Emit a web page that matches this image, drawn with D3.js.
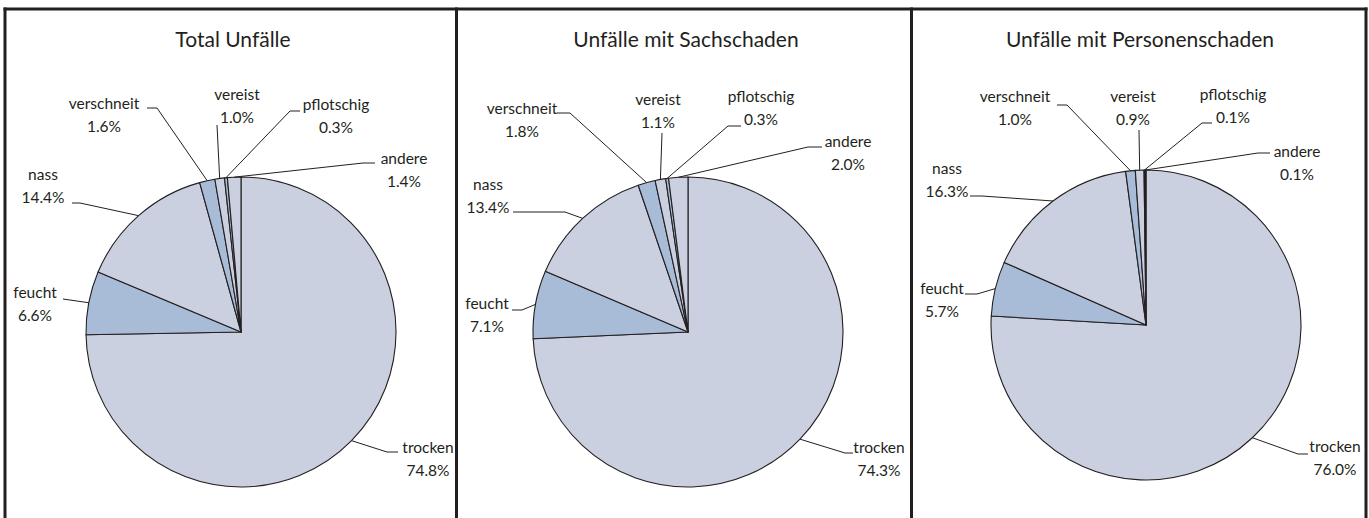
<!DOCTYPE html>
<html>
<head>
<meta charset="utf-8">
<script src="https://cdn.jsdelivr.net/npm/d3@7"></script>
<style>
  body { margin: 0; background: #fff; }
  text { font-family: Lato, "Open Sans", sans-serif; fill: #231f20; }
</style>
</head>
<body>
<div id="chart"></div>
<script>
var width = 1369;
var height = 518;
var radius = 155;
var lightColor = '#cad0df';
var darkColor = '#a8bbd7';
var lineColor = '#231f20';

// data
var categories = ['trocken', 'feucht', 'nass', 'verschneit', 'vereist', 'pflotschig', 'andere'];
var titles = ['Total Unfälle', 'Unfälle mit Sachschaden', 'Unfälle mit Personenschaden'];
var totalValues = [74.8, 6.6, 14.4, 1.6, 1.0, 0.3, 1.4];
var sachValues = [74.3, 7.1, 13.4, 1.8, 1.1, 0.3, 2.0];
var personValues = [76.0, 5.7, 16.3, 1.0, 0.9, 0.1, 0.1];
var seriesValues = [totalValues, sachValues, personValues];

// layout of the three panels (pie centres, frame lines)
var panelCenters = [[241, 332], [688, 332], [1146, 325]];
var titleX = [233, 686, 1140];
var frameX = [5, 456.5, 911.5, 1366];

// label placement relative to pie centre: text centre (tx, ty = name baseline),
// leader knee (kx, ky) and end (ex, ey) next to the text
var labelLayouts = [
  [
    {tx: 187, ty: 121, kx: 146, ky: 120, ex: 157, ey: 120},
    {tx: -206, ty: -34, kx: -178, ky: -33, ex: -178, ey: -33},
    {tx: -198, ty: -152, kx: -161, ky: -129, ex: -169, ey: -129},
    {tx: -137, ty: -223, kx: -84, ky: -224, ex: -94, ey: -224},
    {tx: -4, ty: -232, kx: -24, ky: -207, ex: -24, ey: -207},
    {tx: 95, ty: -222, kx: 49, ky: -221, ex: 59, ey: -221},
    {tx: 163, ty: -168, kx: 122, ky: -169, ex: 134, ey: -169}
  ],
  [
    {tx: 191, ty: 121, kx: 157, ky: 121, ex: 165, ey: 121},
    {tx: -201, ty: -23, kx: -166, ky: -22, ex: -176, ey: -22},
    {tx: -200, ty: -142, kx: -123, ky: -120, ex: -175, ey: -120},
    {tx: -166, ty: -218, kx: -118, ky: -219, ex: -131, ey: -219},
    {tx: -30, ty: -227, kx: -26, ky: -199, ex: -26, ey: -199},
    {tx: 73, ty: -230, kx: 40, ky: -206, ex: 53, ey: -206},
    {tx: 160, ty: -185, kx: 120, ky: -185, ex: 134, ey: -185}
  ],
  [
    {tx: 189, ty: 127, kx: 152, ky: 129, ex: 162, ey: 129},
    {tx: -204, ty: -31, kx: -169, ky: -31, ex: -181, ey: -31},
    {tx: -199, ty: -151, kx: -164, ky: -129, ex: -176, ey: -129},
    {tx: -131, ty: -223, kx: -79, ky: -220, ex: -89, ey: -220},
    {tx: -13, ty: -223, kx: -7, ky: -195, ex: -7, ey: -195},
    {tx: 87, ty: -225, kx: 56, ky: -202, ex: 66, ey: -202},
    {tx: 151, ty: -168, kx: 112, ky: -172, ex: 124, ey: -172}
  ]
];

var svg = d3.select('#chart').append('svg')
      .attr('width', width)
      .attr('height', height);

var pie = d3.pie().sort(null);
var arc = d3.arc().innerRadius(0).outerRadius(radius);
var edgeArc = d3.arc().innerRadius(radius).outerRadius(radius);
var fmt = d3.format('.1f');

seriesValues.forEach(function(values, p) {
  var c = panelCenters[p];
  var g = svg.append('g').attr('transform', 'translate(' + c[0] + ',' + c[1] + ')');
  var arcs = pie(values);

  g.selectAll('path.slice')
    .data(arcs)
    .enter()
    .append('path')
      .attr('class', 'slice')
      .attr('d', arc)
      .style('fill', function(d, i) { return i % 2 == 0 ? lightColor : darkColor; })
      .style('stroke', lineColor)
      .style('stroke-width', 1.1)
      .style('stroke-linejoin', 'round');

  var layout = labelLayouts[p];

  // leader lines
  g.selectAll('polyline.leader')
    .data(arcs)
    .enter()
    .append('polyline')
      .attr('class', 'leader')
      .attr('points', function(d, i) {
        var s = edgeArc.centroid(d);
        var l = layout[i];
        return [s, [l.kx, l.ky], [l.ex, l.ey]].map(function(q) { return q.join(','); }).join(' ');
      })
      .style('fill', 'none')
      .style('stroke', lineColor)
      .style('stroke-width', 1);

  // labels
  var labels = g.selectAll('text.label')
    .data(arcs)
    .enter()
    .append('text')
      .attr('class', 'label')
      .attr('text-anchor', 'middle')
      .style('font-size', '15.5px');
  labels.append('tspan')
    .attr('x', function(d, i) { return layout[i].tx; })
    .attr('y', function(d, i) { return layout[i].ty; })
    .text(function(d, i) { return categories[i]; });
  labels.append('tspan')
    .attr('x', function(d, i) { return layout[i].tx; })
    .attr('y', function(d, i) { return layout[i].ty + 23; })
    .text(function(d, i) { return fmt(values[i]) + '%'; });

  svg.append('text')
    .attr('x', titleX[p])
    .attr('y', 47)
    .attr('text-anchor', 'middle')
    .style('font-size', '21px')
    .text(titles[p]);
});

// frame
svg.append('line')
  .attr('x1', frameX[0] - 1.5).attr('x2', frameX[3] + 1.5)
  .attr('y1', 9).attr('y2', 9)
  .style('stroke', '#231f20').style('stroke-width', 3);
frameX.forEach(function(x) {
  svg.append('line')
    .attr('x1', x).attr('x2', x)
    .attr('y1', 7.5).attr('y2', height)
    .style('stroke', '#231f20').style('stroke-width', 3);
});
</script>
</body>
</html>
